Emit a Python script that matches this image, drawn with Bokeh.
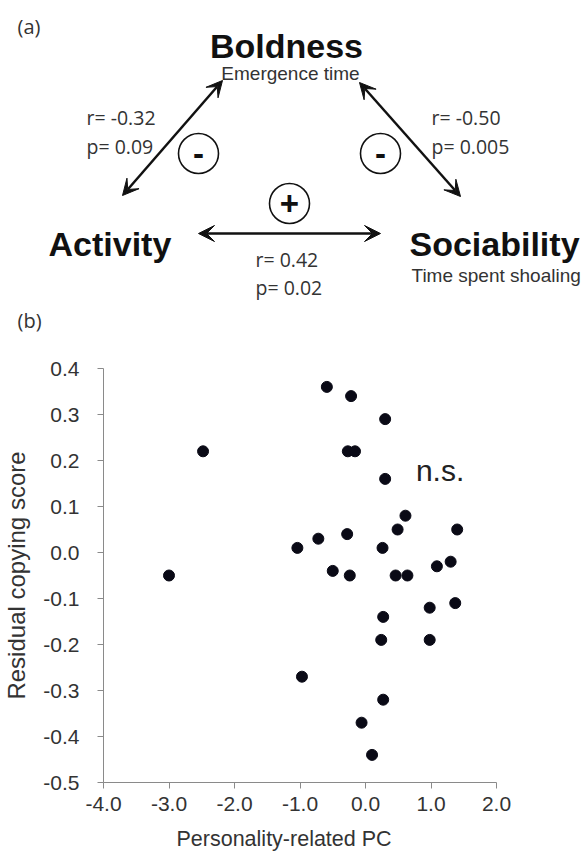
from bokeh.plotting import figure
from bokeh.models import Range1d, Arrow, VeeHead, Label, FixedTicker, PrintfTickFormatter, Title
from bokeh.embed import file_html
from bokeh.resources import INLINE
from bokeh.core.properties import value

# ---------------- data ----------------
# panel (a): trait correlation diagram
trait_names = ["Boldness", "Activity", "Sociability"]
trait_measures = ["Emergence time", "Time spent shoaling"]
corr_r = ["r= -0.32", "r= -0.50", "r= 0.42"]
corr_p = ["p= 0.09", "p= 0.005", "p= 0.02"]
corr_sign = ["-", "-", "+"]

# panel (b): scatter
pc_score = [-2.48, -0.59, -0.22, 0.30, -0.27, -0.16, 0.30, 0.61, 0.49, 1.40,
            -0.28, -0.72, -1.04, 0.26, -0.50, -0.24, -3.00, 0.46, 0.64, 1.09,
            1.30, 0.98, 1.37, 0.27, 0.24, 0.98, -0.97, 0.27, -0.06, 0.10]
copy_score = [0.22, 0.36, 0.34, 0.29, 0.22, 0.22, 0.16, 0.08, 0.05, 0.05,
              0.04, 0.03, 0.01, 0.01, -0.04, -0.05, -0.05, -0.05, -0.05, -0.03,
              -0.02, -0.12, -0.11, -0.14, -0.19, -0.19, -0.27, -0.32, -0.37, -0.44]
x_ticks = [-4, -3, -2, -1, 0, 1, 2]
y_ticks = [-0.5, -0.4, -0.3, -0.2, -0.1, 0.0, 0.1, 0.2, 0.3, 0.4]

# ---------------- diagram layout (page pixels, y down) ----------------
name_x = [286, 48, 409]
name_y = [45, 243, 243]
name_align = ["center", "left", "left"]
measure_x = [290, 411]
measure_y = [73, 275]
measure_align = ["center", "left"]
stat_x = [86, 431, 255]
r_y = [117, 117, 259]
p_y = [146, 146, 287]
sign_x = [198, 380, 289]
sign_y = [153, 153, 203]
arrow_x0 = [122, 359, 198]
arrow_y0 = [195, 82, 233]
arrow_x1 = [222, 460, 380]
arrow_y1 = [80, 196, 233]

SANS = "Liberation Sans"
SOFT = "Open Sans"
PAGE_W, PAGE_H, TOP_H = 584, 861, 340

# ---------------- panel (a) ----------------
pa = figure(width=PAGE_W, height=TOP_H, x_range=Range1d(0, PAGE_W), y_range=Range1d(TOP_H, 0),
            output_backend="svg", toolbar_location=None, min_border=0)
pa.axis.visible = False
pa.grid.visible = False
pa.outline_line_color = None

for i in range(3):
    pa.text(x=[name_x[i]], y=[name_y[i]], text=[trait_names[i]],
            text_font=value(SANS), text_font_style="bold", text_font_size="34px",
            text_color="#111111", text_align=name_align[i], text_baseline="alphabetic")
for i in range(2):
    pa.text(x=[measure_x[i]], y=[measure_y[i]], text=[trait_measures[i]],
            text_font=value(SANS), text_font_size="19px",
            text_color="#333333", text_align=measure_align[i], text_baseline="alphabetic")

pa.text(x=stat_x, y=r_y, text=corr_r, text_font=value(SOFT), text_font_size="19.5px",
        text_color="#333333", text_align="left", text_baseline="alphabetic")
pa.text(x=stat_x, y=p_y, text=corr_p, text_font=value(SOFT), text_font_size="19.5px",
        text_color="#333333", text_align="left", text_baseline="alphabetic")

pa.circle(x=sign_x, y=sign_y, radius=20, fill_color=None, line_color="#111111", line_width=1.6)
pa.text(x=sign_x, y=sign_y, text=corr_sign, text_font=value(SANS), text_font_style="bold",
        text_font_size="33px", text_color="#111111", text_align="center", text_baseline="middle")

for i in range(3):
    pa.add_layout(Arrow(x_start=arrow_x0[i], y_start=arrow_y0[i], x_end=arrow_x1[i], y_end=arrow_y1[i],
                        line_width=2.5, line_color="#111111",
                        start=VeeHead(size=16, fill_color="#111111", line_color="#111111", line_width=1),
                        end=VeeHead(size=16, fill_color="#111111", line_color="#111111", line_width=1)))

pa.text(x=[17, 17], y=[26, 320], text=["(a)", "(b)"], text_font=value(SOFT), text_font_size="20px",
        text_color="#333333", text_align="left", text_baseline="middle")

# ---------------- panel (b) ----------------
pb = figure(width=PAGE_W, height=PAGE_H - TOP_H, x_range=Range1d(-4, 2), y_range=Range1d(-0.5, 0.4),
            output_backend="svg", toolbar_location=None,
            min_border_left=100, min_border_right=88, min_border_top=28, min_border_bottom=79)
pb.grid.visible = False
pb.outline_line_color = None

pb.scatter(pc_score, copy_score, size=11, fill_color="#0a0a16", line_color="#0a0a16")

for ax in (pb.xaxis[0], pb.yaxis[0]):
    ax.axis_line_color = "#8a8a8a"
    ax.major_tick_line_color = "#8a8a8a"
    ax.minor_tick_line_color = None
    ax.major_tick_out = 6
    ax.major_tick_in = 0
    ax.major_label_text_font = SANS
    ax.major_label_text_font_size = "21px"
    ax.major_label_text_color = "#333333"
    ax.formatter = PrintfTickFormatter(format="%.1f")

pb.xaxis.ticker = FixedTicker(ticks=x_ticks)
pb.yaxis.ticker = FixedTicker(ticks=y_ticks)
pb.xaxis.major_label_standoff = 8
pb.yaxis.major_label_standoff = 18

pb.yaxis.axis_label = "Residual copying score"
pb.yaxis.axis_label_text_font = SANS
pb.yaxis.axis_label_text_font_size = "24px"
pb.yaxis.axis_label_text_font_style = "normal"
pb.yaxis.axis_label_text_color = "#333333"
pb.yaxis.axis_label_standoff = 10

pb.add_layout(Title(text="Personality-related PC", align="left", offset=73, standoff=22,
                    text_font=SANS, text_font_size="21.5px", text_font_style="normal",
                    text_color="#333333"), "below")

pb.add_layout(Label(x=0.77, y=0.178, text="n.s.", text_font=SANS, text_font_size="30px",
                    text_color="#222222", text_baseline="alphabetic", text_align="left"))

open("out.html", "w").write(file_html([pa, pb], INLINE))
